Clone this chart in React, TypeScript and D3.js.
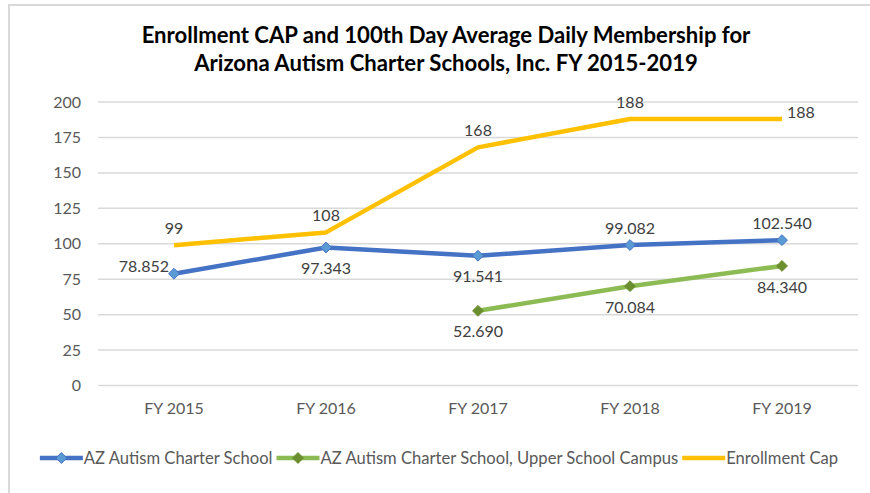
import React, { useEffect, useRef } from 'react';
import * as d3 from 'd3';

const categories = ['FY 2015', 'FY 2016', 'FY 2017', 'FY 2018', 'FY 2019'];
const azSchool = [78.852, 97.343, 91.541, 99.082, 102.54];
const upperCampus = [null, null, 52.69, 70.084, 84.34];
const enrollmentCap = [99, 108, 168, 188, 188];
const yTicks = [0, 25, 50, 75, 100, 125, 150, 175, 200];
const seriesNames = ['AZ Autism Charter School', 'AZ Autism Charter School, Upper School Campus', 'Enrollment Cap'];
const titleLines = ['Enrollment CAP and 100th Day Average Daily Membership for', 'Arizona Autism Charter Schools, Inc. FY 2015-2019'];

const azLabelPos = ['left', 'below', 'below', 'above', 'above'];
const upperLabelPos = ['below', 'below', 'below', 'below', 'below'];
const capLabelPos = ['above', 'above', 'above', 'above', 'right'];

const W = 870;
const H = 493;
const FONT = 'Lato, "Open Sans", sans-serif';

export default function App() {
  const ref = useRef<SVGSVGElement>(null);

  useEffect(() => {
    const svg = d3.select(ref.current);
    svg.selectAll('*').remove();

    svg.append('rect').attr('x', 0).attr('y', 0).attr('width', W).attr('height', H).attr('fill', '#fff');
    svg.append('path').attr('d', `M9,${H} V5 H${W}`).attr('fill', 'none').attr('stroke', '#d9d9d9').attr('stroke-width', 2);

    const x = d3.scaleBand().domain(categories).range([98, 858]);
    const y = d3.scaleLinear().domain([0, 200]).range([385.5, 102]);
    const cx = (c: string) => (x(c) as number) + x.bandwidth() / 2;

    // title
    const title = svg.append('text').attr('text-anchor', 'middle').attr('font-family', FONT)
      .attr('font-weight', 'bold').attr('font-size', 22.1).attr('fill', '#000');
    titleLines.forEach((t, i) => {
      title.append('tspan').attr('x', 446).attr('y', 43 + i * 27.5).text(t);
    });

    // grid
    const g = svg.append('g');
    g.selectAll('line.grid').data(yTicks).enter().append('line')
      .attr('x1', 98).attr('x2', 858).attr('y1', d => y(d)).attr('y2', d => y(d))
      .attr('stroke', '#d9d9d9').attr('stroke-width', 1.5);

    g.selectAll('text.ytick').data(yTicks).enter().append('text')
      .attr('x', 81).attr('y', d => y(d)).attr('dy', '0.35em').attr('text-anchor', 'end')
      .attr('font-family', FONT).attr('font-size', 16).attr('fill', '#595959').text(d => d);

    g.selectAll('text.xtick').data(categories).enter().append('text')
      .attr('x', d => cx(d)).attr('y', 408).attr('dy', '0.35em').attr('text-anchor', 'middle')
      .attr('font-family', FONT).attr('font-size', 16).attr('fill', '#595959').text(d => d);

    const diamond = d3.symbol().type(d3.symbolDiamond2).size(75);

    type S = { vals: (number | null)[]; color: string; mFill?: string; mStroke?: string; pos: string[] };
    const series: S[] = [
      { vals: enrollmentCap, color: '#FFC000', pos: capLabelPos },
      { vals: azSchool, color: '#4472C4', mFill: '#5B9BD5', mStroke: '#4472C4', pos: azLabelPos },
      { vals: upperCampus, color: '#8DBB53', mFill: '#6B8E2E', mStroke: '#6B8E2E', pos: upperLabelPos },
    ];

    const line = d3.line<{ c: string; v: number | null }>()
      .defined(d => d.v != null)
      .x(d => cx(d.c)).y(d => y(d.v as number));

    const fmt = (v: number, s: S) => (s.vals === enrollmentCap ? d3.format('d')(v) : d3.format('.3f')(v));

    series.forEach(s => {
      const pts = categories.map((c, i) => ({ c, v: s.vals[i], p: s.pos[i] }));
      g.append('path').datum(pts).attr('d', line as any).attr('fill', 'none')
        .attr('stroke', s.color).attr('stroke-width', 4.5).attr('stroke-linejoin', 'round');
      const valid = pts.filter(d => d.v != null);
      if (s.mFill) {
        g.selectAll(null).data(valid).enter().append('path')
          .attr('d', diamond as any)
          .attr('transform', d => `translate(${cx(d.c)},${y(d.v as number)})`)
          .attr('fill', s.mFill).attr('stroke', s.mStroke as string).attr('stroke-width', 1);
      }
      g.selectAll(null).data(valid).enter().append('text')
        .attr('x', d => cx(d.c) + (d.p === 'left' ? -5 : d.p === 'right' ? 5 : 0))
        .attr('y', d => y(d.v as number) + (d.p === 'above' ? -17 : d.p === 'below' ? 21 : -7))
        .attr('dy', '0.35em')
        .attr('text-anchor', d => (d.p === 'left' ? 'end' : d.p === 'right' ? 'start' : 'middle'))
        .attr('font-family', FONT).attr('font-size', 16).attr('fill', '#404040')
        .text(d => fmt(d.v as number, s));
    });

    // legend
    const leg = svg.append('g');
    const legendSeries = [series[1], series[2], series[0]];
    const items: { g: any; w: number }[] = [];
    legendSeries.forEach((s, i) => {
      const it = leg.append('g');
      it.append('line').attr('x1', 0).attr('x2', 43).attr('y1', 0).attr('y2', 0)
        .attr('stroke', s.color).attr('stroke-width', 4.5);
      if (s.mFill) {
        it.append('path').attr('d', diamond as any).attr('transform', 'translate(21.5,0)')
          .attr('fill', s.mFill).attr('stroke', s.mStroke as string).attr('stroke-width', 1);
      }
      const t = it.append('text').attr('x', 44).attr('y', 0).attr('dy', '0.35em')
        .attr('font-family', FONT).attr('font-size', 16.6).attr('fill', '#595959').text(seriesNames[i]);
      const tw = (t.node() as SVGTextElement).getComputedTextLength();
      items.push({ g: it, w: 44 + tw });
    });
    const gap = 4;
    const total = items.reduce((a, b) => a + b.w, 0) + gap * (items.length - 1);
    let lx = 439 - total / 2;
    items.forEach(it => {
      it.g.attr('transform', `translate(${lx},458)`);
      lx += it.w + gap;
    });
  }, []);

  return (
    <svg ref={ref} width={W} height={H} style={{ position: 'absolute', left: 0, top: 0 }} />
  );
}
